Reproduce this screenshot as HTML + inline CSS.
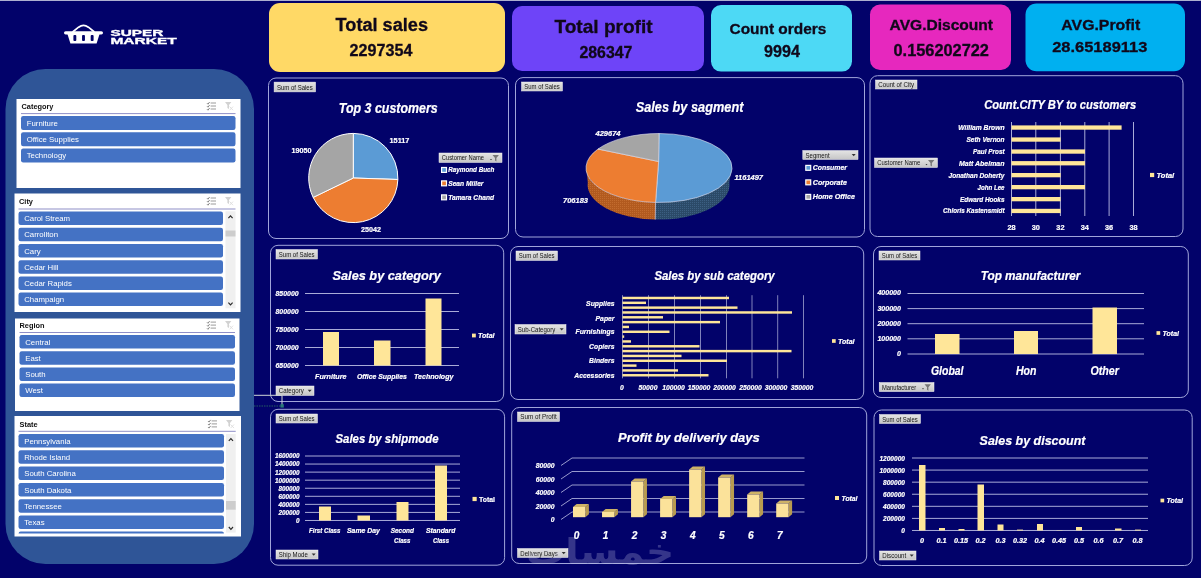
<!DOCTYPE html>
<html lang="en"><head><meta charset="utf-8"><title>Super Market Dashboard</title>
<style>
html,body{margin:0;padding:0}
body{width:1201px;height:578px;overflow:hidden;background:#02026a;font-family:"Liberation Sans",sans-serif;position:relative}
#top{position:absolute;left:0;top:0;width:1201px;height:1px;background:#adb0d0}
svg#ov,svg#bgl{position:absolute;left:0;top:0}
svg#ov text{font-family:"Liberation Sans",sans-serif;white-space:pre}
</style></head>
<body>
<div id="top"></div>
<svg id="bgl" width="1201" height="578" viewBox="0 0 1201 578">
<rect class="card" x="269.00" y="3.00" width="236.00" height="69.00" rx="11" fill="#ffd966"/>
<rect class="card" x="512.00" y="6.00" width="192.00" height="65.00" rx="10" fill="#6e44f8"/>
<rect class="card" x="711.00" y="5.00" width="141.00" height="66.60" rx="10" fill="#4dd9f5"/>
<rect class="card" x="870.00" y="4.50" width="141.00" height="65.50" rx="10" fill="#e628be"/>
<rect class="card" x="1025.50" y="3.50" width="159.50" height="67.80" rx="11" fill="#00b0f0"/>
<rect class="side" x="5.5" y="69" width="248.5" height="495" rx="40" fill="#2f5597"/>
</svg>

<svg id="ov" width="1201" height="578" viewBox="0 0 1201 578">
<defs><linearGradient id="pbg" x1="0" y1="0" x2="0" y2="1"><stop offset="0" stop-color="#e4e4e4"/><stop offset="1" stop-color="#c6c6c6"/></linearGradient></defs>
<text transform="translate(335.60 31.40) scale(0.9853 1)" font-size="18.41" fill="#10081a" font-weight="700" stroke="#10081a" stroke-width="0.3">Total sales</text>
<text transform="translate(349.60 56.00) scale(0.9465 1)" font-size="17.04" fill="#10081a" font-weight="700" stroke="#10081a" stroke-width="0.3">2297354</text>
<text transform="translate(554.50 33.40) scale(1.0606 1)" font-size="17.97" fill="#10081a" font-weight="700" stroke="#10081a" stroke-width="0.3">Total profit</text>
<text transform="translate(579.40 57.60) scale(0.9721 1)" font-size="16.34" fill="#10081a" font-weight="700" stroke="#10081a" stroke-width="0.3">286347</text>
<text transform="translate(729.50 33.60) scale(1.0240 1)" font-size="15.07" fill="#10081a" font-weight="700" stroke="#10081a" stroke-width="0.3">Count orders</text>
<text transform="translate(764.10 56.80) scale(1.0139 1)" font-size="15.92" fill="#10081a" font-weight="700" stroke="#10081a" stroke-width="0.3">9994</text>
<text transform="translate(889.60 30.10) scale(1.0625 1)" font-size="14.64" fill="#10081a" font-weight="700" stroke="#10081a" stroke-width="0.3">AVG.Discount</text>
<text transform="translate(893.50 55.50) scale(1.0276 1)" font-size="15.92" fill="#10081a" font-weight="700" stroke="#10081a" stroke-width="0.3">0.156202722</text>
<text transform="translate(1061.30 30.10) scale(1.0820 1)" font-size="14.64" fill="#10081a" font-weight="700" stroke="#10081a" stroke-width="0.3">AVG.Profit</text>
<text transform="translate(1052.20 52.10) scale(1.0623 1)" font-size="15.49" fill="#10081a" font-weight="700" stroke="#10081a" stroke-width="0.3">28.65189113</text>
<g class="slicer">
<rect x="16.50" y="99.00" width="224.00" height="89.00" fill="#fff"/>
<text transform="translate(21.50 108.80) scale(0.9100 1)" font-size="8.12" fill="#111" font-weight="700">Category</text>
<rect x="21.00" y="113.10" width="214.50" height="1.00" fill="#8f8fc8"/>
<rect x="21.00" y="116.00" width="214.50" height="14.00" fill="#4472c4" rx="2.2"/>
<text transform="translate(26.70 125.75) scale(0.9750 1)" font-size="8.00" fill="#fff">Furniture</text>
<rect x="21.00" y="132.25" width="214.50" height="14.00" fill="#4472c4" rx="2.2"/>
<text transform="translate(26.70 142.00) scale(0.9750 1)" font-size="8.00" fill="#fff">Office Supplies</text>
<rect x="21.00" y="148.50" width="214.50" height="14.00" fill="#4472c4" rx="2.2"/>
<text transform="translate(26.70 158.25) scale(0.9750 1)" font-size="8.00" fill="#fff">Technology</text>
<g transform="translate(207.0 102.0)" fill="none"><path d="M0 1.2 l1 1 l1.6 -2.2" stroke="#666" stroke-width="0.8"/><path d="M3.6 1.0 h5.4" stroke="#8f8f8f" stroke-width="0.9"/><path d="M0 4.2 l1 1 l1.6 -2.2" stroke="#666" stroke-width="0.8"/><path d="M3.6 4.0 h5.4" stroke="#8f8f8f" stroke-width="0.9"/><path d="M0 7.2 l1 1 l1.6 -2.2" stroke="#666" stroke-width="0.8"/><path d="M3.6 7.0 h5.4" stroke="#8f8f8f" stroke-width="0.9"/></g>
<g transform="translate(225.0 102.0)"><path d="M0 0 h6.4 l-2.4 3 v4 l-1.6 -1 v-3 z" fill="#d2d2d2"/><path d="M4.6 4.6 l3.4 3.6 M8 4.6 l-3.4 3.6" stroke="#dcdcdc" stroke-width="0.9"/></g>
</g>
<g class="slicer">
<rect x="14.50" y="193.50" width="226.00" height="118.50" fill="#fff"/>
<text transform="translate(19.00 204.30) scale(0.9100 1)" font-size="8.12" fill="#111" font-weight="700">City</text>
<rect x="18.50" y="208.50" width="217.00" height="1.00" fill="#8f8fc8"/>
<rect x="18.50" y="211.50" width="204.50" height="13.50" fill="#4472c4" rx="2.2"/>
<text transform="translate(24.20 221.00) scale(0.9750 1)" font-size="8.00" fill="#fff">Carol Stream</text>
<rect x="18.50" y="227.75" width="204.50" height="13.50" fill="#4472c4" rx="2.2"/>
<text transform="translate(24.20 237.25) scale(0.9750 1)" font-size="8.00" fill="#fff">Carrollton</text>
<rect x="18.50" y="244.00" width="204.50" height="13.50" fill="#4472c4" rx="2.2"/>
<text transform="translate(24.20 253.50) scale(0.9750 1)" font-size="8.00" fill="#fff">Cary</text>
<rect x="18.50" y="260.25" width="204.50" height="13.50" fill="#4472c4" rx="2.2"/>
<text transform="translate(24.20 269.75) scale(0.9750 1)" font-size="8.00" fill="#fff">Cedar Hill</text>
<rect x="18.50" y="276.50" width="204.50" height="13.50" fill="#4472c4" rx="2.2"/>
<text transform="translate(24.20 286.00) scale(0.9750 1)" font-size="8.00" fill="#fff">Cedar Rapids</text>
<rect x="18.50" y="292.50" width="204.50" height="13.50" fill="#4472c4" rx="2.2"/>
<text transform="translate(24.20 302.00) scale(0.9750 1)" font-size="8.00" fill="#fff">Champaign</text>
<g transform="translate(207.0 197.0)" fill="none"><path d="M0 1.2 l1 1 l1.6 -2.2" stroke="#666" stroke-width="0.8"/><path d="M3.6 1.0 h5.4" stroke="#8f8f8f" stroke-width="0.9"/><path d="M0 4.2 l1 1 l1.6 -2.2" stroke="#666" stroke-width="0.8"/><path d="M3.6 4.0 h5.4" stroke="#8f8f8f" stroke-width="0.9"/><path d="M0 7.2 l1 1 l1.6 -2.2" stroke="#666" stroke-width="0.8"/><path d="M3.6 7.0 h5.4" stroke="#8f8f8f" stroke-width="0.9"/></g>
<g transform="translate(225.0 197.0)"><path d="M0 0 h6.4 l-2.4 3 v4 l-1.6 -1 v-3 z" fill="#d2d2d2"/><path d="M4.6 4.6 l3.4 3.6 M8 4.6 l-3.4 3.6" stroke="#dcdcdc" stroke-width="0.9"/></g>
<rect x="225.50" y="211.30" width="10.00" height="97.00" fill="#f0f0f0"/>
<rect x="225.50" y="230.50" width="10.00" height="6.00" fill="#cdcdcd"/>
<path d="M228.4 218.1 l2.1 -2.3 l2.1 2.3" fill="none" stroke="#2a2a2a" stroke-width="1.15"/>
<path d="M228.4 302.7 l2.1 2.3 l2.1 -2.3" fill="none" stroke="#2a2a2a" stroke-width="1.15"/>
</g>
<g class="slicer">
<rect x="15.00" y="318.50" width="224.50" height="92.50" fill="#fff"/>
<text transform="translate(19.50 327.80) scale(0.9100 1)" font-size="8.12" fill="#111" font-weight="700">Region</text>
<rect x="19.50" y="332.00" width="215.50" height="1.00" fill="#8f8fc8"/>
<rect x="19.50" y="335.00" width="215.50" height="13.50" fill="#4472c4" rx="2.2"/>
<text transform="translate(25.20 344.50) scale(0.9750 1)" font-size="8.00" fill="#fff">Central</text>
<rect x="19.50" y="351.25" width="215.50" height="13.50" fill="#4472c4" rx="2.2"/>
<text transform="translate(25.20 360.75) scale(0.9750 1)" font-size="8.00" fill="#fff">East</text>
<rect x="19.50" y="367.50" width="215.50" height="13.50" fill="#4472c4" rx="2.2"/>
<text transform="translate(25.20 377.00) scale(0.9750 1)" font-size="8.00" fill="#fff">South</text>
<rect x="19.50" y="383.50" width="215.50" height="13.50" fill="#4472c4" rx="2.2"/>
<text transform="translate(25.20 393.00) scale(0.9750 1)" font-size="8.00" fill="#fff">West</text>
<g transform="translate(207.0 321.1)" fill="none"><path d="M0 1.2 l1 1 l1.6 -2.2" stroke="#666" stroke-width="0.8"/><path d="M3.6 1.0 h5.4" stroke="#8f8f8f" stroke-width="0.9"/><path d="M0 4.2 l1 1 l1.6 -2.2" stroke="#666" stroke-width="0.8"/><path d="M3.6 4.0 h5.4" stroke="#8f8f8f" stroke-width="0.9"/><path d="M0 7.2 l1 1 l1.6 -2.2" stroke="#666" stroke-width="0.8"/><path d="M3.6 7.0 h5.4" stroke="#8f8f8f" stroke-width="0.9"/></g>
<g transform="translate(225.0 321.1)"><path d="M0 0 h6.4 l-2.4 3 v4 l-1.6 -1 v-3 z" fill="#d2d2d2"/><path d="M4.6 4.6 l3.4 3.6 M8 4.6 l-3.4 3.6" stroke="#dcdcdc" stroke-width="0.9"/></g>
</g>
<g class="slicer">
<rect x="14.50" y="416.00" width="226.50" height="120.50" fill="#fff"/>
<text transform="translate(19.50 426.80) scale(0.9100 1)" font-size="8.12" fill="#111" font-weight="700">State</text>
<rect x="18.50" y="430.80" width="217.20" height="1.00" fill="#8f8fc8"/>
<rect x="18.50" y="434.00" width="205.50" height="13.50" fill="#4472c4" rx="2.2"/>
<text transform="translate(24.20 443.50) scale(0.9750 1)" font-size="8.00" fill="#fff">Pennsylvania</text>
<rect x="18.50" y="450.20" width="205.50" height="13.50" fill="#4472c4" rx="2.2"/>
<text transform="translate(24.20 459.70) scale(0.9750 1)" font-size="8.00" fill="#fff">Rhode Island</text>
<rect x="18.50" y="466.50" width="205.50" height="13.50" fill="#4472c4" rx="2.2"/>
<text transform="translate(24.20 476.00) scale(0.9750 1)" font-size="8.00" fill="#fff">South Carolina</text>
<rect x="18.50" y="483.00" width="205.50" height="13.50" fill="#4472c4" rx="2.2"/>
<text transform="translate(24.20 492.50) scale(0.9750 1)" font-size="8.00" fill="#fff">South Dakota</text>
<rect x="18.50" y="499.20" width="205.50" height="13.50" fill="#4472c4" rx="2.2"/>
<text transform="translate(24.20 508.70) scale(0.9750 1)" font-size="8.00" fill="#fff">Tennessee</text>
<rect x="18.50" y="515.50" width="205.50" height="13.50" fill="#4472c4" rx="2.2"/>
<text transform="translate(24.20 525.00) scale(0.9750 1)" font-size="8.00" fill="#fff">Texas</text>
<path d="M18.50 533.40 v0.40 q0 -2.2 2.2 -2.2 H221.80 q2.2 0 2.2 2.2 v-0.40 z" fill="#4472c4"/>
<g transform="translate(208.0 419.9)" fill="none"><path d="M0 1.2 l1 1 l1.6 -2.2" stroke="#666" stroke-width="0.8"/><path d="M3.6 1.0 h5.4" stroke="#8f8f8f" stroke-width="0.9"/><path d="M0 4.2 l1 1 l1.6 -2.2" stroke="#666" stroke-width="0.8"/><path d="M3.6 4.0 h5.4" stroke="#8f8f8f" stroke-width="0.9"/><path d="M0 7.2 l1 1 l1.6 -2.2" stroke="#666" stroke-width="0.8"/><path d="M3.6 7.0 h5.4" stroke="#8f8f8f" stroke-width="0.9"/></g>
<g transform="translate(226.0 419.9)"><path d="M0 0 h6.4 l-2.4 3 v4 l-1.6 -1 v-3 z" fill="#d2d2d2"/><path d="M4.6 4.6 l3.4 3.6 M8 4.6 l-3.4 3.6" stroke="#dcdcdc" stroke-width="0.9"/></g>
<rect x="226.00" y="434.00" width="9.70" height="98.60" fill="#f0f0f0"/>
<rect x="226.00" y="501.00" width="9.70" height="8.70" fill="#cdcdcd"/>
<path d="M228.8 440.8 l2.1 -2.3 l2.1 2.3" fill="none" stroke="#2a2a2a" stroke-width="1.15"/>
<path d="M228.8 527.0 l2.1 2.3 l2.1 -2.3" fill="none" stroke="#2a2a2a" stroke-width="1.15"/>
</g>
<rect x="268.50" y="78.00" width="240.00" height="160.50" rx="7.5" fill="none" stroke="#a0a5da" stroke-width="1"/>
<rect x="515.50" y="77.60" width="349.00" height="159.40" rx="7.5" fill="none" stroke="#a0a5da" stroke-width="1"/>
<rect x="870.00" y="75.70" width="313.00" height="160.80" rx="7.5" fill="none" stroke="#a0a5da" stroke-width="1"/>
<rect x="270.50" y="245.30" width="233.20" height="156.20" rx="7.5" fill="none" stroke="#a0a5da" stroke-width="1"/>
<rect x="510.50" y="246.50" width="353.20" height="153.00" rx="7.5" fill="none" stroke="#a0a5da" stroke-width="1"/>
<rect x="873.50" y="246.50" width="314.80" height="151.00" rx="7.5" fill="none" stroke="#a0a5da" stroke-width="1"/>
<rect x="270.50" y="409.30" width="234.10" height="155.90" rx="7.5" fill="none" stroke="#a0a5da" stroke-width="1"/>
<rect x="511.70" y="407.50" width="355.00" height="156.00" rx="7.5" fill="none" stroke="#a0a5da" stroke-width="1"/>
<rect x="874.00" y="410.00" width="318.20" height="155.50" rx="7.5" fill="none" stroke="#a0a5da" stroke-width="1"/>
<rect x="274.10" y="82.10" width="41.50" height="9.80" fill="url(#pbg)" stroke="#f2f2f2" stroke-width="0.5"/>
<text transform="translate(276.90 89.70) scale(0.8748 1)" font-size="6.90" fill="#161616">Sum of Sales</text>
<rect x="439.00" y="153.00" width="63.00" height="9.50" fill="url(#pbg)" stroke="#f2f2f2" stroke-width="0.5"/>
<text transform="translate(441.80 160.45) scale(0.8401 1)" font-size="6.90" fill="#161616">Customer Name</text>
<path d="M490.00 158.95 h2 l-1 1.2 z" fill="#333"/>
<path d="M492.50 155.05 h6.4 l-2.5 3 v3.4 l-1.4 -0.9 v-2.5 z" fill="#777"/>
<rect x="521.50" y="82.00" width="41.00" height="9.00" fill="url(#pbg)" stroke="#f2f2f2" stroke-width="0.5"/>
<text transform="translate(524.30 89.20) scale(0.8626 1)" font-size="6.90" fill="#161616">Sum of Sales</text>
<rect x="802.80" y="150.50" width="55.20" height="9.00" fill="url(#pbg)" stroke="#f2f2f2" stroke-width="0.5"/>
<text transform="translate(805.60 157.70) scale(0.8690 1)" font-size="6.90" fill="#161616">Segment</text>
<path d="M851.70 154.10 h4 l-2 2.2 z" fill="#333"/>
<rect x="875.50" y="80.00" width="41.50" height="9.00" fill="url(#pbg)" stroke="#f2f2f2" stroke-width="0.5"/>
<text transform="translate(878.30 87.20) scale(0.9001 1)" font-size="6.90" fill="#161616">Count of City</text>
<rect x="874.50" y="158.00" width="63.00" height="9.50" fill="url(#pbg)" stroke="#f2f2f2" stroke-width="0.5"/>
<text transform="translate(877.30 165.45) scale(0.8560 1)" font-size="6.90" fill="#161616">Customer Name</text>
<path d="M925.50 163.95 h2 l-1 1.2 z" fill="#333"/>
<path d="M928.00 160.05 h6.4 l-2.5 3 v3.4 l-1.4 -0.9 v-2.5 z" fill="#777"/>
<rect x="276.00" y="249.50" width="41.50" height="9.50" fill="url(#pbg)" stroke="#f2f2f2" stroke-width="0.5"/>
<text transform="translate(278.80 256.95) scale(0.8748 1)" font-size="6.90" fill="#161616">Sum of Sales</text>
<rect x="276.00" y="386.00" width="38.00" height="9.50" fill="url(#pbg)" stroke="#f2f2f2" stroke-width="0.5"/>
<text transform="translate(278.80 393.45) scale(0.8929 1)" font-size="6.90" fill="#161616">Category</text>
<path d="M307.70 389.85 h4 l-2 2.2 z" fill="#333"/>
<rect x="516.00" y="251.00" width="41.50" height="9.50" fill="url(#pbg)" stroke="#f2f2f2" stroke-width="0.5"/>
<text transform="translate(518.80 258.45) scale(0.8748 1)" font-size="6.90" fill="#161616">Sum of Sales</text>
<rect x="515.00" y="324.50" width="51.00" height="9.50" fill="url(#pbg)" stroke="#f2f2f2" stroke-width="0.5"/>
<text transform="translate(517.80 331.95) scale(0.8808 1)" font-size="6.90" fill="#161616">Sub-Category</text>
<path d="M559.70 328.35 h4 l-2 2.2 z" fill="#333"/>
<rect x="879.00" y="251.00" width="41.00" height="9.00" fill="url(#pbg)" stroke="#f2f2f2" stroke-width="0.5"/>
<text transform="translate(881.80 258.20) scale(0.8626 1)" font-size="6.90" fill="#161616">Sum of Sales</text>
<rect x="879.20" y="382.50" width="54.80" height="9.10" fill="url(#pbg)" stroke="#f2f2f2" stroke-width="0.5"/>
<text transform="translate(882.00 389.75) scale(0.8413 1)" font-size="6.90" fill="#161616">Manufacturer</text>
<path d="M922.00 388.25 h2 l-1 1.2 z" fill="#333"/>
<path d="M924.50 384.35 h6.4 l-2.5 3 v3.4 l-1.4 -0.9 v-2.5 z" fill="#777"/>
<rect x="276.00" y="414.00" width="41.50" height="9.00" fill="url(#pbg)" stroke="#f2f2f2" stroke-width="0.5"/>
<text transform="translate(278.80 421.20) scale(0.8748 1)" font-size="6.90" fill="#161616">Sum of Sales</text>
<rect x="276.00" y="550.00" width="42.00" height="9.00" fill="url(#pbg)" stroke="#f2f2f2" stroke-width="0.5"/>
<text transform="translate(278.80 557.20) scale(0.8791 1)" font-size="6.90" fill="#161616">Ship Mode</text>
<path d="M311.70 553.60 h4 l-2 2.2 z" fill="#333"/>
<rect x="517.50" y="412.00" width="42.00" height="9.50" fill="url(#pbg)" stroke="#f2f2f2" stroke-width="0.5"/>
<text transform="translate(520.30 419.45) scale(0.9127 1)" font-size="6.90" fill="#161616">Sum of Profit</text>
<rect x="517.50" y="548.50" width="50.50" height="9.00" fill="url(#pbg)" stroke="#f2f2f2" stroke-width="0.5"/>
<text transform="translate(520.30 555.70) scale(0.8811 1)" font-size="6.90" fill="#161616">Delivery Days</text>
<path d="M561.70 552.10 h4 l-2 2.2 z" fill="#333"/>
<rect x="879.50" y="414.50" width="41.00" height="9.00" fill="url(#pbg)" stroke="#f2f2f2" stroke-width="0.5"/>
<text transform="translate(882.30 421.70) scale(0.8626 1)" font-size="6.90" fill="#161616">Sum of Sales</text>
<rect x="879.50" y="551.00" width="36.50" height="9.00" fill="url(#pbg)" stroke="#f2f2f2" stroke-width="0.5"/>
<text transform="translate(882.30 558.20) scale(0.8940 1)" font-size="6.90" fill="#161616">Discount</text>
<path d="M909.70 554.60 h4 l-2 2.2 z" fill="#333"/>
<text transform="translate(338.75 112.70) scale(0.8938 1)" font-size="13.91" fill="#fff" font-weight="700" font-style="italic" stroke="#fff" stroke-width="0.22">Top 3 customers</text>
<text transform="translate(635.70 111.90) scale(0.9268 1)" font-size="13.77" fill="#fff" font-weight="700" font-style="italic" stroke="#fff" stroke-width="0.22">Sales by sagment</text>
<text transform="translate(984.20 109.00) scale(0.8958 1)" font-size="12.46" fill="#fff" font-weight="700" font-style="italic" stroke="#fff" stroke-width="0.22">Count.CITY BY to customers</text>
<text transform="translate(332.50 279.70) scale(0.9465 1)" font-size="13.48" fill="#fff" font-weight="700" font-style="italic" stroke="#fff" stroke-width="0.22">Sales by category</text>
<text transform="translate(654.40 280.00) scale(0.8947 1)" font-size="12.75" fill="#fff" font-weight="700" font-style="italic" stroke="#fff" stroke-width="0.22">Sales by sub category</text>
<text transform="translate(980.70 279.80) scale(0.9562 1)" font-size="12.32" fill="#fff" font-weight="700" font-style="italic" stroke="#fff" stroke-width="0.22">Top manufacturer</text>
<text transform="translate(335.50 442.80) scale(0.8924 1)" font-size="12.75" fill="#fff" font-weight="700" font-style="italic" stroke="#fff" stroke-width="0.22">Sales by shipmode</text>
<text transform="translate(618.00 441.90) scale(0.9727 1)" font-size="13.33" fill="#fff" font-weight="700" font-style="italic" stroke="#fff" stroke-width="0.22">Profit by deliveriy days</text>
<text transform="translate(979.60 444.60) scale(0.9249 1)" font-size="13.48" fill="#fff" font-weight="700" font-style="italic" stroke="#fff" stroke-width="0.22">Sales by discount</text>
<path d="M353.30 178.00 L353.30 133.40 A44.60 44.60 0 0 1 397.88 179.49 Z" fill="#5b9bd5" stroke="#fff" stroke-width="1" stroke-linejoin="round"/>
<path d="M353.30 178.00 L397.88 179.49 A44.60 44.60 0 0 1 313.15 197.43 Z" fill="#ed7d31" stroke="#fff" stroke-width="1" stroke-linejoin="round"/>
<path d="M353.30 178.00 L313.15 197.43 A44.60 44.60 0 0 1 353.30 133.40 Z" fill="#a5a5a5" stroke="#fff" stroke-width="1" stroke-linejoin="round"/>
<text transform="translate(389.50 143.20) scale(0.9830 1)" font-size="7.46" fill="#fff" font-weight="700" stroke="#fff" stroke-width="0.22">15117</text>
<text transform="translate(291.50 153.20) scale(0.9635 1)" font-size="7.46" fill="#fff" font-weight="700" stroke="#fff" stroke-width="0.22">19050</text>
<text transform="translate(361.00 232.20) scale(0.9635 1)" font-size="7.46" fill="#fff" font-weight="700" stroke="#fff" stroke-width="0.22">25042</text>
<rect x="441.6" y="167.50" width="4.9" height="4.9" fill="#5b9bd5" stroke="#fff" stroke-width="1.2"/>
<text transform="translate(448.20 172.30) scale(0.7778 1)" font-size="8.12" fill="#fff" font-weight="700" font-style="italic" stroke="#fff" stroke-width="0.22">Raymond Buch</text>
<rect x="441.6" y="180.90" width="4.9" height="4.9" fill="#ed7d31" stroke="#fff" stroke-width="1.2"/>
<text transform="translate(448.20 185.70) scale(0.8238 1)" font-size="8.12" fill="#fff" font-weight="700" font-style="italic" stroke="#fff" stroke-width="0.22">Sean Miller</text>
<rect x="441.6" y="194.90" width="4.9" height="4.9" fill="#a5a5a5" stroke="#fff" stroke-width="1.2"/>
<text transform="translate(448.20 199.70) scale(0.8168 1)" font-size="8.12" fill="#fff" font-weight="700" font-style="italic" stroke="#fff" stroke-width="0.22">Tamara Chand</text>
<defs><pattern id="dots" width="2" height="2" patternUnits="userSpaceOnUse"><rect width="1" height="1" fill="#5b86b0" opacity="0.35"/></pattern><pattern id="dotso" width="2" height="2" patternUnits="userSpaceOnUse"><rect width="1" height="1" fill="#e08a4a" opacity="0.35"/></pattern></defs>
<path d="M731.82 165.59 A73.00 34.50 0 0 1 655.56 202.46 L655.26 219.56 A71.00 34.80 0 0 0 729.43 182.37 Z" fill="#2b4a68"/>
<path d="M731.82 165.59 A73.00 34.50 0 0 1 655.56 202.46 L655.26 219.56 A71.00 34.80 0 0 0 729.43 182.37 Z" fill="url(#dots)"/>
<path d="M655.56 202.46 A73.00 34.50 0 0 1 586.18 165.59 L587.77 182.37 A71.00 34.80 0 0 0 655.26 219.56 Z" fill="#b25a1f"/>
<path d="M655.56 202.46 A73.00 34.50 0 0 1 586.18 165.59 L587.77 182.37 A71.00 34.80 0 0 0 655.26 219.56 Z" fill="url(#dotso)"/>
<path d="M655.56 202.46 L655.26 219.56" stroke="#d8d8e8" stroke-width="0.7"/>
<path d="M658.60 161.50 L659.00 133.50 A73.00 34.50 0 1 1 655.56 202.46 Z" fill="#5b9bd5" stroke="#e8e8f0" stroke-width="0.6" stroke-linejoin="round"/>
<path d="M658.60 161.50 L655.56 202.46 A73.00 34.50 0 0 1 597.99 149.06 Z" fill="#ed7d31" stroke="#e8e8f0" stroke-width="0.6" stroke-linejoin="round"/>
<path d="M658.60 161.50 L597.99 149.06 A73.00 34.50 0 0 1 659.00 133.50 Z" fill="#a5a5a5" stroke="#e8e8f0" stroke-width="0.6" stroke-linejoin="round"/>
<text transform="translate(595.50 135.80) scale(0.9671 1)" font-size="7.75" fill="#fff" font-weight="700" font-style="italic" stroke="#fff" stroke-width="0.22">429674</text>
<text transform="translate(734.50 180.30) scale(0.9634 1)" font-size="7.75" fill="#fff" font-weight="700" font-style="italic" stroke="#fff" stroke-width="0.22">1161497</text>
<text transform="translate(563.00 203.30) scale(0.9671 1)" font-size="7.75" fill="#fff" font-weight="700" font-style="italic" stroke="#fff" stroke-width="0.22">706183</text>
<rect x="805.8" y="165.40" width="4.9" height="4.9" fill="#5b9bd5" stroke="#fff" stroke-width="1.2"/>
<text transform="translate(812.70 170.10) scale(0.8701 1)" font-size="7.97" fill="#fff" font-weight="700" font-style="italic" stroke="#fff" stroke-width="0.22">Consumer</text>
<rect x="805.8" y="179.90" width="4.9" height="4.9" fill="#ed7d31" stroke="#fff" stroke-width="1.2"/>
<text transform="translate(812.70 184.60) scale(0.9005 1)" font-size="7.97" fill="#fff" font-weight="700" font-style="italic" stroke="#fff" stroke-width="0.22">Corporate</text>
<rect x="805.8" y="194.40" width="4.9" height="4.9" fill="#a5a5a5" stroke="#fff" stroke-width="1.2"/>
<text transform="translate(812.70 199.10) scale(0.9037 1)" font-size="7.97" fill="#fff" font-weight="700" font-style="italic" stroke="#fff" stroke-width="0.22">Home Office</text>
<path d="M1011.50 122.00 V216.00" stroke="#a9abd8" stroke-width="1"/>
<path d="M1035.80 122.00 V216.00" stroke="#a9abd8" stroke-width="1"/>
<path d="M1060.40 122.00 V216.00" stroke="#a9abd8" stroke-width="1"/>
<path d="M1084.80 122.00 V216.00" stroke="#a9abd8" stroke-width="1"/>
<path d="M1109.10 122.00 V216.00" stroke="#a9abd8" stroke-width="1"/>
<path d="M1133.50 122.00 V216.00" stroke="#a9abd8" stroke-width="1"/>
<rect x="1011.50" y="125.40" width="110.10" height="4.30" fill="#ffe699"/>
<text transform="translate(958.30 129.90) scale(0.8442 1)" font-size="7.97" fill="#fff" font-weight="700" font-style="italic" stroke="#fff" stroke-width="0.22">William Brown</text>
<rect x="1011.50" y="137.40" width="49.10" height="4.30" fill="#ffe699"/>
<text transform="translate(966.50 141.90) scale(0.8167 1)" font-size="7.97" fill="#fff" font-weight="700" font-style="italic" stroke="#fff" stroke-width="0.22">Seth Vernon</text>
<rect x="1011.50" y="149.40" width="73.50" height="4.30" fill="#ffe699"/>
<text transform="translate(973.00 153.90) scale(0.8015 1)" font-size="7.97" fill="#fff" font-weight="700" font-style="italic" stroke="#fff" stroke-width="0.22">Paul Prost</text>
<rect x="1011.50" y="161.10" width="73.50" height="4.30" fill="#ffe699"/>
<text transform="translate(959.00 165.60) scale(0.8775 1)" font-size="7.97" fill="#fff" font-weight="700" font-style="italic" stroke="#fff" stroke-width="0.22">Matt Abelman</text>
<rect x="1011.50" y="173.00" width="49.10" height="4.30" fill="#ffe699"/>
<text transform="translate(948.50 177.50) scale(0.8279 1)" font-size="7.97" fill="#fff" font-weight="700" font-style="italic" stroke="#fff" stroke-width="0.22">Jonathan Doherty</text>
<rect x="1011.50" y="185.00" width="73.50" height="4.30" fill="#ffe699"/>
<text transform="translate(977.50 189.50) scale(0.7745 1)" font-size="7.97" fill="#fff" font-weight="700" font-style="italic" stroke="#fff" stroke-width="0.22">John Lee</text>
<rect x="1011.50" y="197.00" width="49.10" height="4.30" fill="#ffe699"/>
<text transform="translate(960.00 201.50) scale(0.8055 1)" font-size="7.97" fill="#fff" font-weight="700" font-style="italic" stroke="#fff" stroke-width="0.22">Edward Hooks</text>
<rect x="1011.50" y="208.80" width="49.10" height="4.30" fill="#ffe699"/>
<text transform="translate(943.00 213.30) scale(0.7947 1)" font-size="7.97" fill="#fff" font-weight="700" font-style="italic" stroke="#fff" stroke-width="0.22">Chloris Kastensmidt</text>
<text transform="translate(1007.42 229.80) scale(0.9300 1)" font-size="7.89" fill="#fff" font-weight="700" stroke="#fff" stroke-width="0.22">28</text>
<text transform="translate(1031.72 229.80) scale(0.9300 1)" font-size="7.89" fill="#fff" font-weight="700" stroke="#fff" stroke-width="0.22">30</text>
<text transform="translate(1056.32 229.80) scale(0.9300 1)" font-size="7.89" fill="#fff" font-weight="700" stroke="#fff" stroke-width="0.22">32</text>
<text transform="translate(1080.72 229.80) scale(0.9300 1)" font-size="7.89" fill="#fff" font-weight="700" stroke="#fff" stroke-width="0.22">34</text>
<text transform="translate(1105.02 229.80) scale(0.9300 1)" font-size="7.89" fill="#fff" font-weight="700" stroke="#fff" stroke-width="0.22">36</text>
<text transform="translate(1129.42 229.80) scale(0.9300 1)" font-size="7.89" fill="#fff" font-weight="700" stroke="#fff" stroke-width="0.22">38</text>
<rect x="1150.00" y="172.90" width="4.20" height="4.20" fill="#ffe699"/>
<text transform="translate(1156.50 177.70) scale(0.9617 1)" font-size="7.83" fill="#fff" font-weight="700" font-style="italic" stroke="#fff" stroke-width="0.22">Total</text>
<path d="M305.00 293.50 H459.00" stroke="#a9abd8" stroke-width="1"/>
<text transform="translate(275.50 295.80) scale(0.8975 1)" font-size="7.75" fill="#fff" font-weight="700" font-style="italic" stroke="#fff" stroke-width="0.22">850000</text>
<path d="M305.00 311.50 H459.00" stroke="#a9abd8" stroke-width="1"/>
<text transform="translate(275.50 313.80) scale(0.8975 1)" font-size="7.75" fill="#fff" font-weight="700" font-style="italic" stroke="#fff" stroke-width="0.22">800000</text>
<path d="M305.00 329.50 H459.00" stroke="#a9abd8" stroke-width="1"/>
<text transform="translate(275.50 331.80) scale(0.8975 1)" font-size="7.75" fill="#fff" font-weight="700" font-style="italic" stroke="#fff" stroke-width="0.22">750000</text>
<path d="M305.00 347.50 H459.00" stroke="#a9abd8" stroke-width="1"/>
<text transform="translate(275.50 349.80) scale(0.8975 1)" font-size="7.75" fill="#fff" font-weight="700" font-style="italic" stroke="#fff" stroke-width="0.22">700000</text>
<path d="M305.00 365.50 H459.00" stroke="#a9abd8" stroke-width="1"/>
<text transform="translate(275.50 367.80) scale(0.8975 1)" font-size="7.75" fill="#fff" font-weight="700" font-style="italic" stroke="#fff" stroke-width="0.22">650000</text>
<rect x="323.00" y="332.00" width="16.00" height="33.50" fill="#ffe699"/>
<rect x="374.00" y="340.50" width="16.50" height="25.00" fill="#ffe699"/>
<rect x="425.50" y="298.50" width="16.00" height="67.00" fill="#ffe699"/>
<text transform="translate(315.00 378.80) scale(0.8844 1)" font-size="8.12" fill="#fff" font-weight="700" font-style="italic" stroke="#fff" stroke-width="0.22">Furniture</text>
<text transform="translate(357.00 378.80) scale(0.8484 1)" font-size="8.12" fill="#fff" font-weight="700" font-style="italic" stroke="#fff" stroke-width="0.22">Office Supplies</text>
<text transform="translate(414.00 378.80) scale(0.8731 1)" font-size="8.12" fill="#fff" font-weight="700" font-style="italic" stroke="#fff" stroke-width="0.22">Technology</text>
<rect x="472.00" y="333.60" width="3.80" height="3.80" fill="#ffe699"/>
<text transform="translate(478.00 338.20) scale(0.8965 1)" font-size="7.83" fill="#fff" font-weight="700" font-style="italic" stroke="#fff" stroke-width="0.22">Total</text>
<path d="M622.50 295.20 V378.30" stroke="#9799ca" stroke-width="0.85"/>
<path d="M648.50 295.20 V378.30" stroke="#9799ca" stroke-width="0.85"/>
<path d="M674.50 295.20 V378.30" stroke="#9799ca" stroke-width="0.85"/>
<path d="M700.50 295.20 V378.30" stroke="#9799ca" stroke-width="0.85"/>
<path d="M726.50 295.20 V378.30" stroke="#9799ca" stroke-width="0.85"/>
<path d="M752.00 295.20 V378.30" stroke="#9799ca" stroke-width="0.85"/>
<path d="M777.70 295.20 V378.30" stroke="#9799ca" stroke-width="0.85"/>
<path d="M803.50 295.20 V378.30" stroke="#9799ca" stroke-width="0.85"/>
<rect x="622.50" y="296.75" width="106.50" height="2.45" fill="#ffe699"/>
<rect x="622.50" y="301.58" width="23.50" height="2.45" fill="#ffe699"/>
<rect x="622.50" y="306.41" width="115.00" height="2.45" fill="#ffe699"/>
<rect x="622.50" y="311.24" width="169.50" height="2.45" fill="#ffe699"/>
<rect x="622.50" y="316.07" width="40.50" height="2.45" fill="#ffe699"/>
<rect x="622.50" y="320.90" width="97.50" height="2.45" fill="#ffe699"/>
<rect x="622.50" y="325.73" width="6.50" height="2.45" fill="#ffe699"/>
<rect x="622.50" y="330.56" width="47.00" height="2.45" fill="#ffe699"/>
<rect x="622.50" y="335.39" width="1.70" height="2.45" fill="#ffe699"/>
<rect x="622.50" y="340.22" width="8.50" height="2.45" fill="#ffe699"/>
<rect x="622.50" y="345.05" width="77.00" height="2.45" fill="#ffe699"/>
<rect x="622.50" y="349.88" width="169.00" height="2.45" fill="#ffe699"/>
<rect x="622.50" y="354.71" width="59.00" height="2.45" fill="#ffe699"/>
<rect x="622.50" y="359.54" width="104.50" height="2.45" fill="#ffe699"/>
<rect x="622.50" y="364.37" width="14.00" height="2.45" fill="#ffe699"/>
<rect x="622.50" y="369.20" width="55.50" height="2.45" fill="#ffe699"/>
<rect x="622.50" y="374.03" width="86.00" height="2.45" fill="#ffe699"/>
<text transform="translate(586.09 306.10) scale(0.8400 1)" font-size="8.12" fill="#fff" font-weight="700" font-style="italic" stroke="#fff" stroke-width="0.22">Supplies</text>
<text transform="translate(595.55 320.60) scale(0.8400 1)" font-size="8.12" fill="#fff" font-weight="700" font-style="italic" stroke="#fff" stroke-width="0.22">Paper</text>
<text transform="translate(575.49 334.10) scale(0.8400 1)" font-size="8.12" fill="#fff" font-weight="700" font-style="italic" stroke="#fff" stroke-width="0.22">Furnishings</text>
<text transform="translate(589.12 349.10) scale(0.8400 1)" font-size="8.12" fill="#fff" font-weight="700" font-style="italic" stroke="#fff" stroke-width="0.22">Copiers</text>
<text transform="translate(589.12 363.10) scale(0.8400 1)" font-size="8.12" fill="#fff" font-weight="700" font-style="italic" stroke="#fff" stroke-width="0.22">Binders</text>
<text transform="translate(574.32 378.10) scale(0.8400 1)" font-size="8.12" fill="#fff" font-weight="700" font-style="italic" stroke="#fff" stroke-width="0.22">Accessories</text>
<text transform="translate(620.10 390.40) scale(0.8800 1)" font-size="7.75" fill="#fff" font-weight="700" font-style="italic" stroke="#fff" stroke-width="0.22">0</text>
<text transform="translate(638.52 390.40) scale(0.8800 1)" font-size="7.75" fill="#fff" font-weight="700" font-style="italic" stroke="#fff" stroke-width="0.22">50000</text>
<text transform="translate(662.13 390.40) scale(0.8800 1)" font-size="7.75" fill="#fff" font-weight="700" font-style="italic" stroke="#fff" stroke-width="0.22">100000</text>
<text transform="translate(687.63 390.40) scale(0.8800 1)" font-size="7.75" fill="#fff" font-weight="700" font-style="italic" stroke="#fff" stroke-width="0.22">150000</text>
<text transform="translate(713.13 390.40) scale(0.8800 1)" font-size="7.75" fill="#fff" font-weight="700" font-style="italic" stroke="#fff" stroke-width="0.22">200000</text>
<text transform="translate(739.13 390.40) scale(0.8800 1)" font-size="7.75" fill="#fff" font-weight="700" font-style="italic" stroke="#fff" stroke-width="0.22">250000</text>
<text transform="translate(764.63 390.40) scale(0.8800 1)" font-size="7.75" fill="#fff" font-weight="700" font-style="italic" stroke="#fff" stroke-width="0.22">300000</text>
<text transform="translate(790.63 390.40) scale(0.8800 1)" font-size="7.75" fill="#fff" font-weight="700" font-style="italic" stroke="#fff" stroke-width="0.22">350000</text>
<rect x="832.00" y="339.15" width="3.70" height="3.70" fill="#ffe699"/>
<text transform="translate(838.00 343.70) scale(0.8965 1)" font-size="7.83" fill="#fff" font-weight="700" font-style="italic" stroke="#fff" stroke-width="0.22">Total</text>
<path d="M907.50 293.50 H1144.00" stroke="#a9abd8" stroke-width="1"/>
<text transform="translate(877.40 295.40) scale(0.9300 1)" font-size="7.61" fill="#fff" font-weight="700" font-style="italic" stroke="#fff" stroke-width="0.22">400000</text>
<path d="M907.50 308.60 H1144.00" stroke="#a9abd8" stroke-width="1"/>
<text transform="translate(877.40 310.50) scale(0.9300 1)" font-size="7.61" fill="#fff" font-weight="700" font-style="italic" stroke="#fff" stroke-width="0.22">300000</text>
<path d="M907.50 323.70 H1144.00" stroke="#a9abd8" stroke-width="1"/>
<text transform="translate(877.40 325.60) scale(0.9300 1)" font-size="7.61" fill="#fff" font-weight="700" font-style="italic" stroke="#fff" stroke-width="0.22">200000</text>
<path d="M907.50 338.80 H1144.00" stroke="#a9abd8" stroke-width="1"/>
<text transform="translate(877.40 340.70) scale(0.9300 1)" font-size="7.61" fill="#fff" font-weight="700" font-style="italic" stroke="#fff" stroke-width="0.22">100000</text>
<path d="M907.50 354.00 H1144.00" stroke="#a9abd8" stroke-width="1"/>
<text transform="translate(897.07 355.90) scale(0.9300 1)" font-size="7.61" fill="#fff" font-weight="700" font-style="italic" stroke="#fff" stroke-width="0.22">0</text>
<rect x="935.00" y="334.00" width="24.50" height="20.00" fill="#ffe699"/>
<rect x="1014.00" y="331.00" width="24.00" height="23.00" fill="#ffe699"/>
<rect x="1092.50" y="307.50" width="24.50" height="46.50" fill="#ffe699"/>
<text transform="translate(931.00 374.50) scale(0.8479 1)" font-size="12.32" fill="#fff" font-weight="700" font-style="italic" stroke="#fff" stroke-width="0.22">Global</text>
<text transform="translate(1016.00 374.50) scale(0.8561 1)" font-size="12.32" fill="#fff" font-weight="700" font-style="italic" stroke="#fff" stroke-width="0.22">Hon</text>
<text transform="translate(1090.50 374.50) scale(0.8675 1)" font-size="12.32" fill="#fff" font-weight="700" font-style="italic" stroke="#fff" stroke-width="0.22">Other</text>
<rect x="1156.50" y="331.15" width="3.70" height="3.70" fill="#ffe699"/>
<text transform="translate(1162.50 335.70) scale(0.8965 1)" font-size="7.83" fill="#fff" font-weight="700" font-style="italic" stroke="#fff" stroke-width="0.22">Total</text>
<path d="M305.00 456.00 H460.00" stroke="#a9abd8" stroke-width="1"/>
<text transform="translate(274.92 458.40) scale(0.9000 1)" font-size="7.04" fill="#fff" font-weight="700" font-style="italic" stroke="#fff" stroke-width="0.22">1600000</text>
<path d="M305.00 464.06 H460.00" stroke="#a9abd8" stroke-width="1"/>
<text transform="translate(274.92 466.46) scale(0.9000 1)" font-size="7.04" fill="#fff" font-weight="700" font-style="italic" stroke="#fff" stroke-width="0.22">1400000</text>
<path d="M305.00 472.12 H460.00" stroke="#a9abd8" stroke-width="1"/>
<text transform="translate(274.92 474.52) scale(0.9000 1)" font-size="7.04" fill="#fff" font-weight="700" font-style="italic" stroke="#fff" stroke-width="0.22">1200000</text>
<path d="M305.00 480.18 H460.00" stroke="#a9abd8" stroke-width="1"/>
<text transform="translate(274.92 482.58) scale(0.9000 1)" font-size="7.04" fill="#fff" font-weight="700" font-style="italic" stroke="#fff" stroke-width="0.22">1000000</text>
<path d="M305.00 488.24 H460.00" stroke="#a9abd8" stroke-width="1"/>
<text transform="translate(278.45 490.64) scale(0.9000 1)" font-size="7.04" fill="#fff" font-weight="700" font-style="italic" stroke="#fff" stroke-width="0.22">800000</text>
<path d="M305.00 496.30 H460.00" stroke="#a9abd8" stroke-width="1"/>
<text transform="translate(278.45 498.70) scale(0.9000 1)" font-size="7.04" fill="#fff" font-weight="700" font-style="italic" stroke="#fff" stroke-width="0.22">600000</text>
<path d="M305.00 504.36 H460.00" stroke="#a9abd8" stroke-width="1"/>
<text transform="translate(278.45 506.76) scale(0.9000 1)" font-size="7.04" fill="#fff" font-weight="700" font-style="italic" stroke="#fff" stroke-width="0.22">400000</text>
<path d="M305.00 512.42 H460.00" stroke="#a9abd8" stroke-width="1"/>
<text transform="translate(278.45 514.82) scale(0.9000 1)" font-size="7.04" fill="#fff" font-weight="700" font-style="italic" stroke="#fff" stroke-width="0.22">200000</text>
<path d="M305.00 520.48 H460.00" stroke="#a9abd8" stroke-width="1"/>
<text transform="translate(296.07 522.88) scale(0.9000 1)" font-size="7.04" fill="#fff" font-weight="700" font-style="italic" stroke="#fff" stroke-width="0.22">0</text>
<rect x="319.00" y="506.50" width="12.00" height="14.00" fill="#ffe699"/>
<rect x="357.50" y="515.50" width="12.50" height="5.00" fill="#ffe699"/>
<rect x="396.50" y="502.00" width="12.00" height="18.50" fill="#ffe699"/>
<rect x="435.00" y="465.50" width="12.00" height="55.00" fill="#ffe699"/>
<text transform="translate(309.00 533.20) scale(0.7590 1)" font-size="8.12" fill="#fff" font-weight="700" font-style="italic" stroke="#fff" stroke-width="0.22">First Class</text>
<text transform="translate(347.00 533.20) scale(0.8505 1)" font-size="8.12" fill="#fff" font-weight="700" font-style="italic" stroke="#fff" stroke-width="0.22">Same Day</text>
<text transform="translate(390.70 533.20) scale(0.7948 1)" font-size="8.12" fill="#fff" font-weight="700" font-style="italic" stroke="#fff" stroke-width="0.22">Second</text>
<text transform="translate(394.00 542.80) scale(0.7572 1)" font-size="8.12" fill="#fff" font-weight="700" font-style="italic" stroke="#fff" stroke-width="0.22">Class</text>
<text transform="translate(426.00 533.20) scale(0.8330 1)" font-size="8.12" fill="#fff" font-weight="700" font-style="italic" stroke="#fff" stroke-width="0.22">Standard</text>
<text transform="translate(433.00 542.80) scale(0.7388 1)" font-size="8.12" fill="#fff" font-weight="700" font-style="italic" stroke="#fff" stroke-width="0.22">Class</text>
<rect x="472.50" y="496.90" width="4.20" height="4.20" fill="#ffe699"/>
<text transform="translate(479.00 501.70) scale(0.8833 1)" font-size="7.83" fill="#fff" font-weight="700" stroke="#fff" stroke-width="0.22">Total</text>
<path d="M561 465.50 L572 458.00 H804.5" fill="none" stroke="#a9abd8" stroke-width="0.9"/>
<text transform="translate(535.64 468.00) scale(0.8800 1)" font-size="7.75" fill="#fff" font-weight="700" font-style="italic" stroke="#fff" stroke-width="0.22">80000</text>
<path d="M561 479.00 L572 471.50 H804.5" fill="none" stroke="#a9abd8" stroke-width="0.9"/>
<text transform="translate(535.64 481.50) scale(0.8800 1)" font-size="7.75" fill="#fff" font-weight="700" font-style="italic" stroke="#fff" stroke-width="0.22">60000</text>
<path d="M561 492.50 L572 485.00 H804.5" fill="none" stroke="#a9abd8" stroke-width="0.9"/>
<text transform="translate(535.64 495.00) scale(0.8800 1)" font-size="7.75" fill="#fff" font-weight="700" font-style="italic" stroke="#fff" stroke-width="0.22">40000</text>
<path d="M561 506.00 L572 498.50 H804.5" fill="none" stroke="#a9abd8" stroke-width="0.9"/>
<text transform="translate(535.64 508.50) scale(0.8800 1)" font-size="7.75" fill="#fff" font-weight="700" font-style="italic" stroke="#fff" stroke-width="0.22">20000</text>
<path d="M561 519.50 L572 512.00 H804.5" fill="none" stroke="#a9abd8" stroke-width="0.9"/>
<text transform="translate(550.81 522.00) scale(0.8800 1)" font-size="7.75" fill="#fff" font-weight="700" font-style="italic" stroke="#fff" stroke-width="0.22">0</text>
<path d="M585.30 507.00 l3.6 -3 V514.20 l-3.6 3 Z" fill="#b89b50"/>
<path d="M573.00 507.00 l3.6 -3 h12.3 l-3.6 3 Z" fill="#cdb267"/>
<rect x="573.00" y="507.00" width="12.30" height="10.20" fill="#fbe29a"/>
<text transform="translate(573.77 539.00) scale(0.9500 1)" font-size="10.70" fill="#fff" font-weight="700" font-style="italic" stroke="#fff" stroke-width="0.22">0</text>
<path d="M614.33 512.00 l3.6 -3 V514.20 l-3.6 3 Z" fill="#b89b50"/>
<path d="M602.03 512.00 l3.6 -3 h12.3 l-3.6 3 Z" fill="#cdb267"/>
<rect x="602.03" y="512.00" width="12.30" height="5.20" fill="#fbe29a"/>
<text transform="translate(602.80 539.00) scale(0.9500 1)" font-size="10.70" fill="#fff" font-weight="700" font-style="italic" stroke="#fff" stroke-width="0.22">1</text>
<path d="M643.36 481.50 l3.6 -3 V514.20 l-3.6 3 Z" fill="#b89b50"/>
<path d="M631.06 481.50 l3.6 -3 h12.3 l-3.6 3 Z" fill="#cdb267"/>
<rect x="631.06" y="481.50" width="12.30" height="35.70" fill="#fbe29a"/>
<text transform="translate(631.83 539.00) scale(0.9500 1)" font-size="10.70" fill="#fff" font-weight="700" font-style="italic" stroke="#fff" stroke-width="0.22">2</text>
<path d="M672.39 499.00 l3.6 -3 V514.20 l-3.6 3 Z" fill="#b89b50"/>
<path d="M660.09 499.00 l3.6 -3 h12.3 l-3.6 3 Z" fill="#cdb267"/>
<rect x="660.09" y="499.00" width="12.30" height="18.20" fill="#fbe29a"/>
<text transform="translate(660.86 539.00) scale(0.9500 1)" font-size="10.70" fill="#fff" font-weight="700" font-style="italic" stroke="#fff" stroke-width="0.22">3</text>
<path d="M701.42 469.50 l3.6 -3 V514.20 l-3.6 3 Z" fill="#b89b50"/>
<path d="M689.12 469.50 l3.6 -3 h12.3 l-3.6 3 Z" fill="#cdb267"/>
<rect x="689.12" y="469.50" width="12.30" height="47.70" fill="#fbe29a"/>
<text transform="translate(689.89 539.00) scale(0.9500 1)" font-size="10.70" fill="#fff" font-weight="700" font-style="italic" stroke="#fff" stroke-width="0.22">4</text>
<path d="M730.45 477.50 l3.6 -3 V514.20 l-3.6 3 Z" fill="#b89b50"/>
<path d="M718.15 477.50 l3.6 -3 h12.3 l-3.6 3 Z" fill="#cdb267"/>
<rect x="718.15" y="477.50" width="12.30" height="39.70" fill="#fbe29a"/>
<text transform="translate(718.92 539.00) scale(0.9500 1)" font-size="10.70" fill="#fff" font-weight="700" font-style="italic" stroke="#fff" stroke-width="0.22">5</text>
<path d="M759.48 494.50 l3.6 -3 V514.20 l-3.6 3 Z" fill="#b89b50"/>
<path d="M747.18 494.50 l3.6 -3 h12.3 l-3.6 3 Z" fill="#cdb267"/>
<rect x="747.18" y="494.50" width="12.30" height="22.70" fill="#fbe29a"/>
<text transform="translate(747.95 539.00) scale(0.9500 1)" font-size="10.70" fill="#fff" font-weight="700" font-style="italic" stroke="#fff" stroke-width="0.22">6</text>
<path d="M788.51 503.50 l3.6 -3 V514.20 l-3.6 3 Z" fill="#b89b50"/>
<path d="M776.21 503.50 l3.6 -3 h12.3 l-3.6 3 Z" fill="#cdb267"/>
<rect x="776.21" y="503.50" width="12.30" height="13.70" fill="#fbe29a"/>
<text transform="translate(776.98 539.00) scale(0.9500 1)" font-size="10.70" fill="#fff" font-weight="700" font-style="italic" stroke="#fff" stroke-width="0.22">7</text>
<rect x="835.00" y="496.00" width="4.00" height="4.00" fill="#ffe699"/>
<text transform="translate(841.50 500.70) scale(0.8694 1)" font-size="7.83" fill="#fff" font-weight="700" font-style="italic" stroke="#fff" stroke-width="0.22">Total</text>
<path d="M912.00 458.00 H1148.00" stroke="#a9abd8" stroke-width="1"/>
<text transform="translate(879.43 460.70) scale(0.8800 1)" font-size="7.46" fill="#fff" font-weight="700" font-style="italic" stroke="#fff" stroke-width="0.22">1200000</text>
<path d="M912.00 470.08 H1148.00" stroke="#a9abd8" stroke-width="1"/>
<text transform="translate(879.43 472.78) scale(0.8800 1)" font-size="7.46" fill="#fff" font-weight="700" font-style="italic" stroke="#fff" stroke-width="0.22">1000000</text>
<path d="M912.00 482.16 H1148.00" stroke="#a9abd8" stroke-width="1"/>
<text transform="translate(883.08 484.86) scale(0.8800 1)" font-size="7.46" fill="#fff" font-weight="700" font-style="italic" stroke="#fff" stroke-width="0.22">800000</text>
<path d="M912.00 494.24 H1148.00" stroke="#a9abd8" stroke-width="1"/>
<text transform="translate(883.08 496.94) scale(0.8800 1)" font-size="7.46" fill="#fff" font-weight="700" font-style="italic" stroke="#fff" stroke-width="0.22">600000</text>
<path d="M912.00 506.32 H1148.00" stroke="#a9abd8" stroke-width="1"/>
<text transform="translate(883.08 509.02) scale(0.8800 1)" font-size="7.46" fill="#fff" font-weight="700" font-style="italic" stroke="#fff" stroke-width="0.22">400000</text>
<path d="M912.00 518.40 H1148.00" stroke="#a9abd8" stroke-width="1"/>
<text transform="translate(883.08 521.10) scale(0.8800 1)" font-size="7.46" fill="#fff" font-weight="700" font-style="italic" stroke="#fff" stroke-width="0.22">200000</text>
<path d="M912.00 530.48 H1148.00" stroke="#a9abd8" stroke-width="1"/>
<text transform="translate(901.35 533.18) scale(0.8800 1)" font-size="7.46" fill="#fff" font-weight="700" font-style="italic" stroke="#fff" stroke-width="0.22">0</text>
<rect x="919.00" y="465.00" width="6.50" height="65.50" fill="#ffe699"/>
<rect x="939.00" y="528.00" width="6.00" height="2.50" fill="#ffe699"/>
<rect x="958.50" y="529.00" width="6.00" height="1.50" fill="#ffe699"/>
<rect x="977.50" y="484.50" width="6.50" height="46.00" fill="#ffe699"/>
<rect x="997.50" y="524.50" width="6.00" height="6.00" fill="#ffe699"/>
<rect x="1017.00" y="529.60" width="6.00" height="0.90" fill="#ffe699"/>
<rect x="1037.00" y="524.00" width="6.00" height="6.50" fill="#ffe699"/>
<rect x="1056.50" y="530.20" width="6.00" height="0.30" fill="#ffe699"/>
<rect x="1076.00" y="527.00" width="6.00" height="3.50" fill="#ffe699"/>
<rect x="1095.50" y="530.30" width="6.00" height="0.20" fill="#ffe699"/>
<rect x="1115.00" y="528.50" width="6.50" height="2.00" fill="#ffe699"/>
<rect x="1135.00" y="529.60" width="6.00" height="0.90" fill="#ffe699"/>
<text transform="translate(919.98 543.30) scale(0.9400 1)" font-size="7.75" fill="#fff" font-weight="700" font-style="italic" stroke="#fff" stroke-width="0.22">0</text>
<text transform="translate(936.44 543.30) scale(0.9400 1)" font-size="7.75" fill="#fff" font-weight="700" font-style="italic" stroke="#fff" stroke-width="0.22">0.1</text>
<text transform="translate(953.91 543.30) scale(0.9400 1)" font-size="7.75" fill="#fff" font-weight="700" font-style="italic" stroke="#fff" stroke-width="0.22">0.15</text>
<text transform="translate(975.44 543.30) scale(0.9400 1)" font-size="7.75" fill="#fff" font-weight="700" font-style="italic" stroke="#fff" stroke-width="0.22">0.2</text>
<text transform="translate(995.44 543.30) scale(0.9400 1)" font-size="7.75" fill="#fff" font-weight="700" font-style="italic" stroke="#fff" stroke-width="0.22">0.3</text>
<text transform="translate(1012.91 543.30) scale(0.9400 1)" font-size="7.75" fill="#fff" font-weight="700" font-style="italic" stroke="#fff" stroke-width="0.22">0.32</text>
<text transform="translate(1034.44 543.30) scale(0.9400 1)" font-size="7.75" fill="#fff" font-weight="700" font-style="italic" stroke="#fff" stroke-width="0.22">0.4</text>
<text transform="translate(1051.91 543.30) scale(0.9400 1)" font-size="7.75" fill="#fff" font-weight="700" font-style="italic" stroke="#fff" stroke-width="0.22">0.45</text>
<text transform="translate(1073.94 543.30) scale(0.9400 1)" font-size="7.75" fill="#fff" font-weight="700" font-style="italic" stroke="#fff" stroke-width="0.22">0.5</text>
<text transform="translate(1093.44 543.30) scale(0.9400 1)" font-size="7.75" fill="#fff" font-weight="700" font-style="italic" stroke="#fff" stroke-width="0.22">0.6</text>
<text transform="translate(1112.94 543.30) scale(0.9400 1)" font-size="7.75" fill="#fff" font-weight="700" font-style="italic" stroke="#fff" stroke-width="0.22">0.7</text>
<text transform="translate(1132.44 543.30) scale(0.9400 1)" font-size="7.75" fill="#fff" font-weight="700" font-style="italic" stroke="#fff" stroke-width="0.22">0.8</text>
<rect x="1160.50" y="498.65" width="3.70" height="3.70" fill="#ffe699"/>
<text transform="translate(1166.50 503.20) scale(0.8965 1)" font-size="7.83" fill="#fff" font-weight="700" font-style="italic" stroke="#fff" stroke-width="0.22">Total</text>
<g fill="#fff"><rect x="64" y="31.2" width="39" height="3.2" rx="1.6"/><path d="M67.3 33.5 H99.7 L96.6 43.6 H70.4 Z"/><path d="M72.6 32 L78.6 27.2 Q83.5 23.6 88.4 27.2 L94.4 32" fill="none" stroke="#fff" stroke-width="1.7" stroke-linejoin="round"/></g><g fill="#02026a"><rect x="73.4" y="35" width="2.9" height="6" rx="0.9"/><rect x="82.05" y="35" width="2.9" height="6" rx="0.9"/><rect x="90.7" y="35" width="2.9" height="6" rx="0.9"/></g>
<text transform="translate(110.40 36.15) scale(1.8621 1)" font-size="8.26" fill="#fff" font-weight="700" stroke="#fff" stroke-width="0.3">SUPER</text>
<text transform="translate(110.40 43.60) scale(1.8154 1)" font-size="8.55" fill="#fff" font-weight="700" stroke="#fff" stroke-width="0.3">MARKET</text>
<path d="M254 395.3 H282 V405" fill="none" stroke="#cfd6d6" stroke-width="1"/><path d="M254 406 H281" fill="none" stroke="#245f60" stroke-width="1.1" stroke-dasharray="1.5 1"/><rect x="280.4" y="404.2" width="3.4" height="3.4" fill="#2a7a78"/>
<text transform="translate(600 564.3) scale(1.15 1.05)" font-size="34" style="font-family:'DejaVu Sans',sans-serif" font-weight="700" fill="#d8d8f2" opacity="0.24" text-anchor="middle" direction="rtl">خمسات</text>
</svg>
</body></html>
